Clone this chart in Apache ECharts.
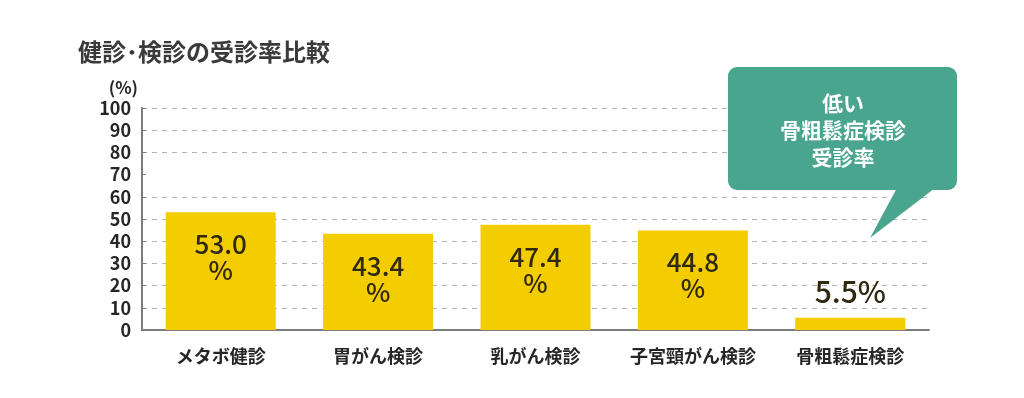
<!DOCTYPE html>
<html lang="ja">
<head>
  <meta charset="UTF-8">
  <title>健診・検診の受診率比較</title>
  <style>
    html, body { margin: 0; padding: 0; background: #fff; }
  </style>
  <script src="https://cdn.jsdelivr.net/npm/echarts@6/dist/echarts.min.js"></script>
</head>
<body>
<div id="chart" style="width: 1024px; height: 398px;"></div>
<script>
  // データ
  const categories = ['メタボ健診', '胃がん検診', '乳がん検診', '子宮頸がん検診', '骨粗鬆症検診']
  const rates = [53.0, 43.4, 47.4, 44.8, 5.5]
  const yTicks = [0, 10, 20, 30, 40, 50, 60, 70, 80, 90, 100]
  const calloutLines = ['低い', '骨粗鬆症検診', '受診率']

  const font = '"Noto Sans CJK JP", "Noto Sans", sans-serif'
  const yellow = '#f3cd00'
  const teal = '#4aa58f'

  // 70% のグリッド線だけ元画像で欠けている
  const gridColors = yTicks.map(v => v === 70 ? 'rgba(0,0,0,0)' : '#b5b5b5')

  const barData = rates.map((v, i) => {
    const last = i === rates.length - 1
    return {
      value: v,
      label: last ? {
        position: 'top',
        distance: 11,
        fontSize: 30,
        lineHeight: 30,
        formatter: p => p.value.toFixed(1) + '%'
      } : {
        position: 'insideTop',
        distance: 19,
        formatter: p => p.value.toFixed(1) + '\n%'
      }
    }
  })

  const chart = echarts.init(document.getElementById('chart'))
  chart.setOption({
    animation: false,
    textStyle: { fontFamily: font },
    title: {
      text: '健診･検診の受診率比較',
      left: 73,
      top: 35,
      textStyle: { fontFamily: font, fontSize: 24, fontWeight: 'bold', color: '#3a3a3a' }
    },
    grid: { left: 142, right: 95, top: 108, bottom: 68 },
    xAxis: {
      type: 'category',
      data: categories,
      axisLine: { lineStyle: { color: '#7c7c7c', width: 2 } },
      axisTick: { show: false },
      axisLabel: { interval: 0, margin: 17, fontSize: 18, fontWeight: 'bold', color: '#262626', fontFamily: font }
    },
    yAxis: {
      type: 'value',
      min: 0,
      max: 100,
      interval: 10,
      name: '(%)',
      nameLocation: 'end',
      nameGap: 12,
      nameTextStyle: { align: 'right', padding: [0, 4, 0, 0], fontSize: 17, fontWeight: 'bold', color: '#262626', fontFamily: font },
      axisLine: { show: true, lineStyle: { color: '#7c7c7c', width: 2 } },
      axisTick: { show: true, inside: true, length: 4, lineStyle: { color: '#7c7c7c' } },
      axisLabel: { margin: 11, fontSize: 18, fontWeight: 'bold', color: '#262626', fontFamily: font },
      splitLine: { lineStyle: { color: gridColors, type: [5, 5], width: 1 } }
    },
    series: [{
      type: 'bar',
      data: barData,
      barWidth: 110,
      itemStyle: { color: yellow },
      label: {
        show: true,
        fontSize: 26,
        lineHeight: 26,
        fontWeight: 500,
        color: '#30280f',
        fontFamily: font
      }
    }],
    graphic: [
      {
        type: 'rect',
        shape: { x: 728, y: 67, width: 229, height: 123, r: 9 },
        style: { fill: teal },
        z: 100
      },
      {
        type: 'polygon',
        shape: { points: [[897, 188], [935, 188], [870, 238]] },
        style: { fill: teal },
        z: 100
      },
      {
        type: 'text',
        x: 843,
        y: 130,
        z: 101,
        style: {
          text: calloutLines.join('\n'),
          fill: '#fff',
          fontSize: 21,
          fontWeight: 'bold',
          fontFamily: font,
          lineHeight: 27,
          align: 'center',
          verticalAlign: 'middle'
        }
      }
    ]
  })
</script>
</body>
</html>
